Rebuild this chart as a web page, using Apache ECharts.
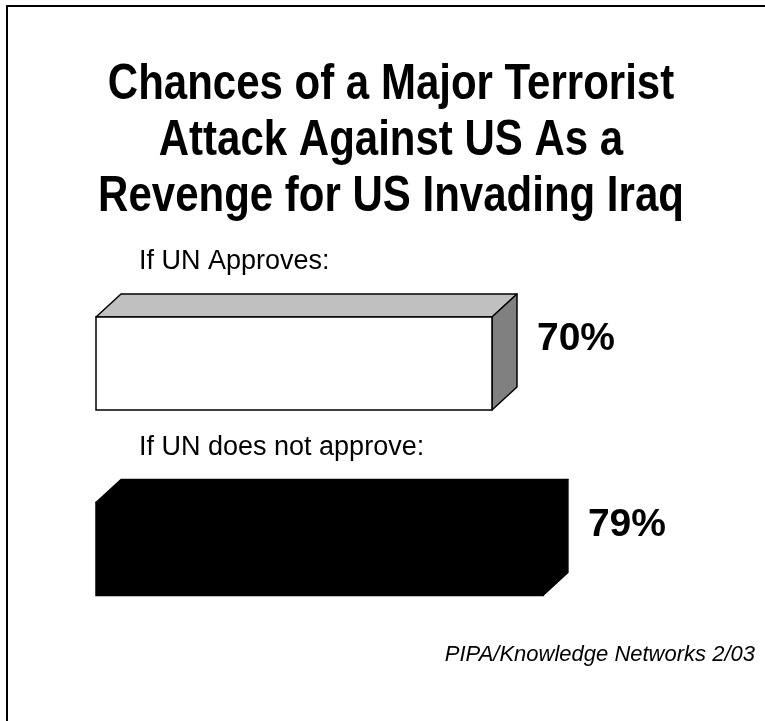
<!DOCTYPE html>
<html>
<head>
<meta charset="utf-8">
<script src="https://cdn.jsdelivr.net/npm/echarts@6/dist/echarts.min.js"></script>
<style>
html,body{margin:0;padding:0;background:#fff;}
#chart{width:765px;height:721px;}
</style>
</head>
<body>
<div id="chart"></div>
<script>
// ---- data ----
const titleLines = ['Chances of a Major Terrorist', 'Attack Against US As a', 'Revenge for US Invading Iraq'];
const categories = ['If UN Approves:', 'If UN does not approve:'];
const values = [70, 79];
const valueLabels = ['70%', '79%'];
const sourceNote = 'PIPA/Knowledge Networks 2/03';

// ---- styles ----
const barStyles = [
  { front: '#ffffff', top: '#c0c0c0', side: '#808080', stroke: '#000000' },
  { front: '#000000', top: '#000000', side: '#000000', stroke: '#000000' }
];
const FONT = '"Liberation Sans", Arial, sans-serif';
const BAR_H = 93, DX = 25, DY = 23;

const chart = echarts.init(document.getElementById('chart'), null, { renderer: 'canvas' });

function renderItem(params, api) {
  const idx = api.value(1);
  const v = api.value(0);
  const p0 = api.coord([0, idx]);
  const p1 = api.coord([v, idx]);
  const x0 = p0[0], x1 = p1[0], cy = p0[1];
  const yT = cy - BAR_H / 2, yB = cy + BAR_H / 2;
  const s = barStyles[idx];
  const lw = 1.5;
  return {
    type: 'group',
    children: [
      { type: 'polygon', shape: { points: [[x0, yT], [x0 + DX, yT - DY], [x1 + DX, yT - DY], [x1, yT]] },
        style: { fill: s.top, stroke: s.stroke, lineWidth: lw, lineJoin: 'round' } },
      { type: 'polygon', shape: { points: [[x1, yT], [x1 + DX, yT - DY], [x1 + DX, yB - DY], [x1, yB]] },
        style: { fill: s.side, stroke: s.stroke, lineWidth: lw, lineJoin: 'round' } },
      { type: 'rect', shape: { x: x0, y: yT, width: x1 - x0, height: BAR_H },
        style: { fill: s.front, stroke: s.stroke, lineWidth: lw } },
      { type: 'text', style: { x: x0 + 43, y: yT - 55, text: categories[idx], fill: '#000',
          fontSize: 27, fontFamily: FONT, align: 'left', verticalAlign: 'middle' } },
      { type: 'text', style: { x: x1 + 45, y: cy - 24, text: valueLabels[idx], fill: '#000',
          fontSize: 39, fontWeight: 'bold', fontFamily: FONT, align: 'left', verticalAlign: 'middle' } }
    ]
  };
}

chart.setOption({
  animation: false,
  backgroundColor: '#ffffff',
  grid: { left: 96, right: 103.3, top: 270.75, height: 371, containLabel: false },
  xAxis: { type: 'value', min: 0, max: 100, show: false },
  yAxis: { type: 'category', data: categories, inverse: true, show: false },
  graphic: [
    { type: 'rect', shape: { x: 7, y: 6, width: 800, height: 800 }, silent: true,
      style: { fill: 'none', stroke: '#000', lineWidth: 2 } },
    { type: 'text', x: 391, y: 141, scaleX: 0.84, silent: true,
      style: { text: titleLines.join('\n'), fill: '#000', fontSize: 50, fontWeight: 'bold',
        fontFamily: FONT, align: 'center', verticalAlign: 'middle', lineHeight: 56 } },
    { type: 'text', x: 755, y: 655, silent: true,
      style: { text: sourceNote, fill: '#000', fontSize: 22, fontStyle: 'italic',
        fontFamily: FONT, align: 'right', verticalAlign: 'middle' } }
  ],
  series: [{
    type: 'custom',
    renderItem: renderItem,
    data: values.map((v, i) => [v, i]),
    encode: { x: 0, y: 1 }
  }]
});
</script>
</body>
</html>
